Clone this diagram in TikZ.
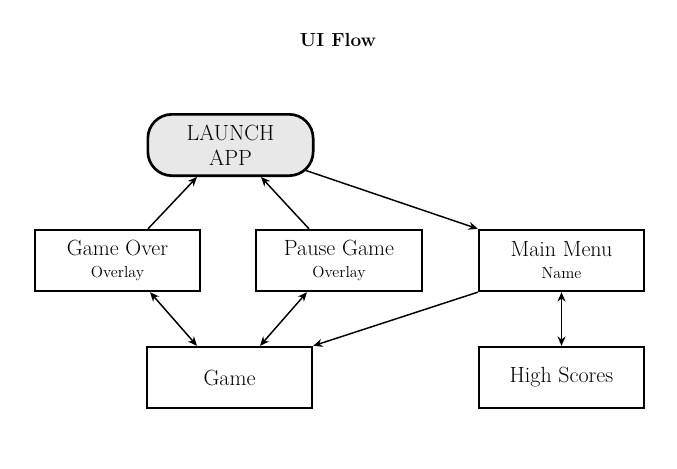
\documentclass[tikz,border=0pt]{standalone}
\usepackage{fontspec}
\setmainfont{Latin Modern Roman}
\usetikzlibrary{arrows.meta,calc}
\begin{document}
\begin{tikzpicture}[x=0.75pt,y=-0.75pt,
  box/.style={draw,line width=1.5pt,minimum width=124pt,minimum height=46pt,align=center,inner sep=0pt,font=\fontsize{16.5}{18.5}\selectfont},
  launchbox/.style={box,line width=2pt,fill=black!9,rounded corners=18pt},
  conn/.style={line width=1.1pt,-{Stealth[length=7pt,width=6pt]}},
  biconn/.style={line width=1.1pt,{Stealth[length=7pt,width=6pt]}-{Stealth[length=7pt,width=6pt]}}]
\useasboundingbox (0,0) rectangle (677,468);
\node[font=\bfseries\fontsize{14.2}{16}\selectfont] (title) at (338,40) {UI Flow};
\node[launchbox] (launch) at (230.5,145) {LAUNCH\\APP};
\node[box] (go) at (117.5,260.5) {Game Over\\[-2pt]{\fontsize{12}{14}\selectfont Overlay}};
\node[box] (pause) at (339,260.5) {Pause Game\\[-2pt]{\fontsize{12}{14}\selectfont Overlay}};
\node[box] (mm) at (561.5,260.5) {Main Menu\\[-2pt]{\fontsize{12}{14}\selectfont Name}};
\node[box] (game) at (229.5,377.5) {Game};
\node[box] (hs) at (561.5,377.5) {High Scores};
\draw[conn] ($(go.north)+(30.5,0)$) -- ($(launch.south)+(-33.5,0)$);
\draw[conn] ($(pause.north)+(-30,0)$) -- ($(launch.south)+(30.5,0)$);
\draw[conn] ($(launch.south east)+(-10,-7)$) -- (mm.north west);
\draw[biconn] ($(go.south)+(32.5,0)$) -- ($(game.north)+(-32.5,0)$);
\draw[biconn] ($(pause.south)+(-32,0)$) -- ($(game.north)+(30.5,0)$);
\draw[conn] (mm.south west) -- (game.north east);
\draw[biconn] (mm.south) -- (hs.north);
\end{tikzpicture}
\end{document}
